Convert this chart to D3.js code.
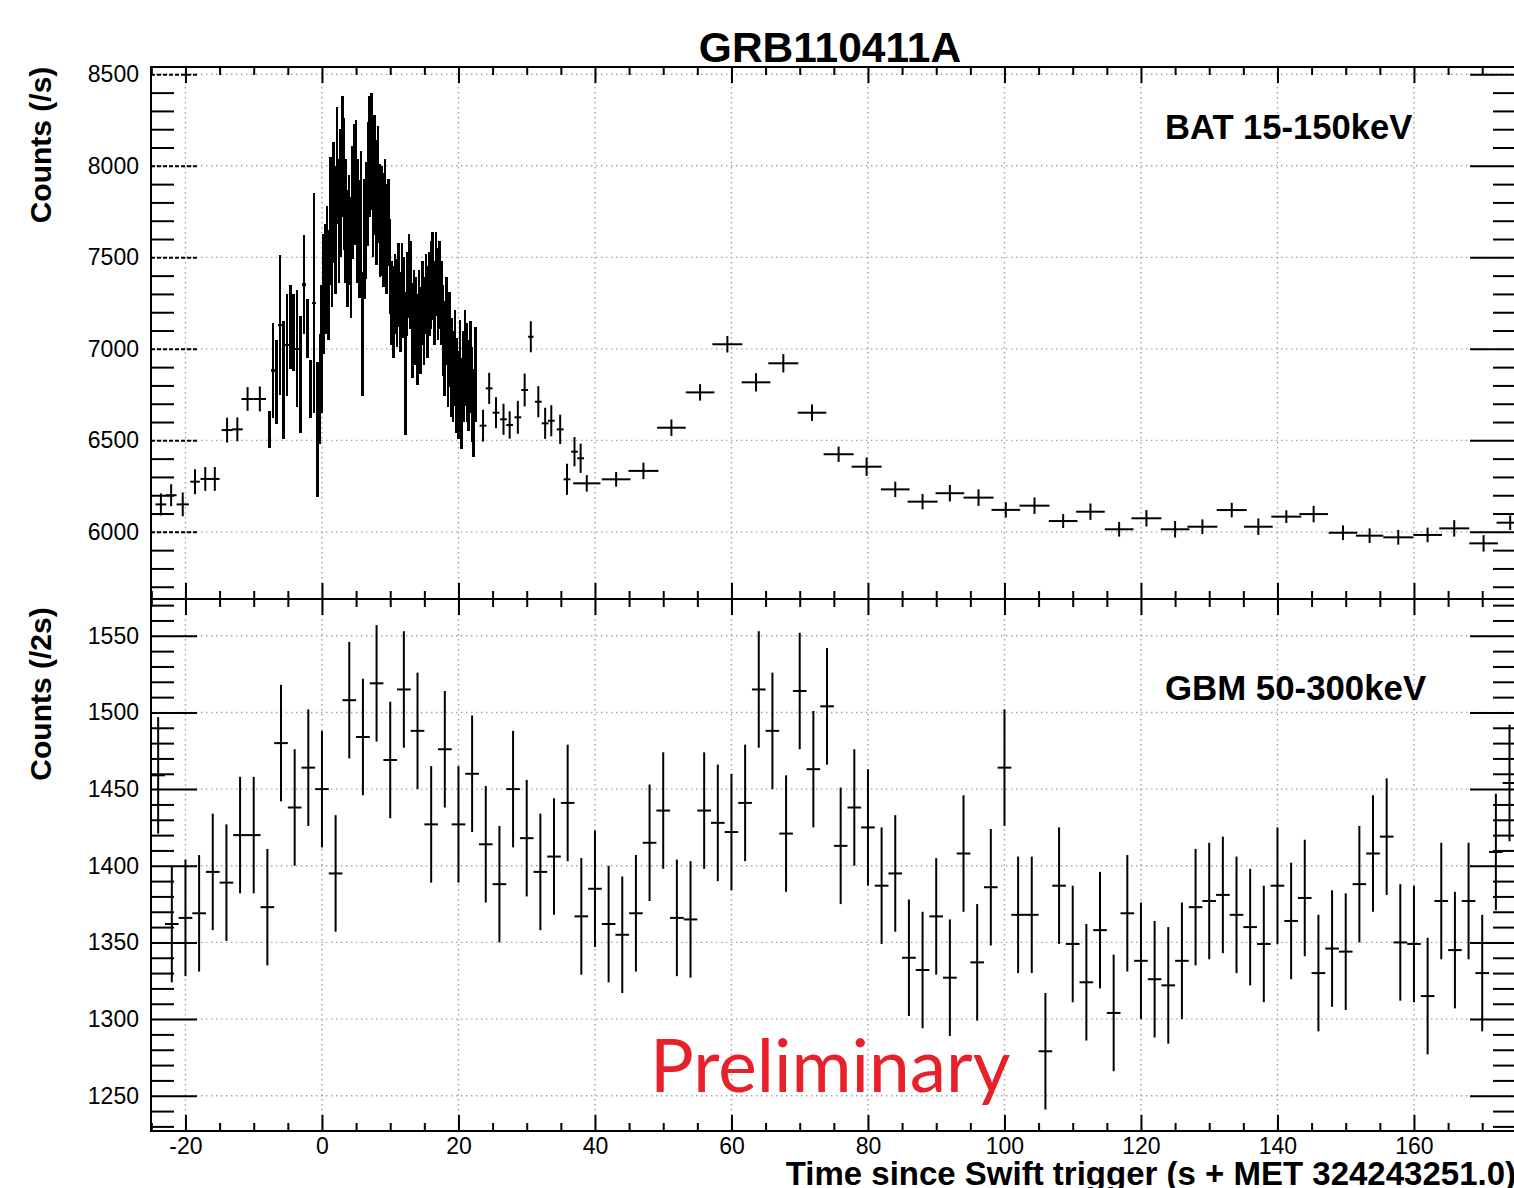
<!DOCTYPE html>
<html>
<head>
<meta charset="utf-8">
<script src="https://cdn.jsdelivr.net/npm/d3@7"></script>
<style>
body { margin: 0; background: #fff; }
svg text { font-family: "Liberation Sans", Arial, Helvetica, sans-serif; }
</style>
</head>
<body>
<div id="chart"></div>
<script>
// ---- BAT 15-150 keV, sparse bins (time, rate, half bin width, error) ----
var batT = [-23.6, -22.1, -20.4, -18.6, -17.1, -15.7, -13.9, -12.4, -10.9, -9.1,
            23.6, 24.5, 25.5, 26.6, 27.5, 28.7, 29.7, 30.6, 31.7, 32.7, 33.6, 34.9, 35.9, 37.0, 37.9,
            38.8, 43.1, 47.1, 51.2, 55.4, 59.4, 63.6, 67.6, 71.8, 75.7, 79.8, 84.0, 88.0, 92.0, 96.2,
            100.2, 104.4, 108.6, 112.6, 116.8, 120.8, 125.0, 129.0, 133.3, 137.2, 141.3, 145.3,
            149.6, 153.5, 157.7, 162.0, 165.9, 170.2, 174.1];
var batV = [6150, 6200, 6150, 6274, 6289, 6289, 6556, 6560, 6726, 6726,
            6580, 6784, 6651, 6615, 6584, 6626, 6775, 7066, 6711, 6593, 6607, 6560, 6287, 6438, 6402,
            6265, 6287, 6333, 6569, 6762, 7025, 6817, 6921, 6651, 6424, 6356, 6232, 6165, 6211, 6187,
            6120, 6143, 6059, 6110, 6014, 6074, 6014, 6028, 6119, 6028, 6083, 6097,
            5995, 5979, 5970, 5983, 6019, 5937, 6050];
var batXErr = [0.8, 0.8, 0.9, 0.7, 0.7, 0.7, 0.8, 0.8, 0.9, 0.9,
               0.5, 0.5, 0.5, 0.5, 0.5, 0.5, 0.5, 0.4, 0.5, 0.5, 0.5, 0.5, 0.5, 0.5, 0.5,
               2.0, 2.1, 2.2, 2.1, 2.1, 2.2, 2.1, 2.2, 2.1, 2.2, 2.2, 2.1, 2.2, 2.1, 2.2,
               2.1, 2.2, 2.1, 2.1, 2.1, 2.2, 2.1, 2.2, 2.2, 2.1, 2.2, 2.1,
               2.1, 2.0, 2.2, 2.1, 2.2, 2.1, 2.0];
var batYErr = [60, 60, 65, 68, 65, 65, 68, 65, 65, 68,
               87, 85, 85, 85, 75, 90, 90, 85, 85, 85, 85, 80, 85, 80, 80,
               45, 40, 45, 45, 45, 45, 50, 50, 45, 42, 50, 42, 42, 45, 45,
               42, 45, 38, 45, 40, 45, 45, 40, 40, 45, 35, 45,
               40, 40, 40, 40, 45, 45, 40];

// ---- BAT rise, 0.5 s bins starting at -7.9 s ----
var batRiseStart = -7.9, batRiseBin = 0.5;
var batRiseV = [6560, 6880, 6820, 7130, 6830, 7020, 7120, 7090, 7000, 6860, 7350, 7110, 6780, 7250, 6560];
var batRiseE = [100, 260, 230, 380, 320, 280, 230, 210, 320, 320, 270, 160, 160, 600, 370];

// ---- BAT main burst, 0.25 s bins starting at -0.4 s ----
var batBurstStart = -0.4, batBurstBin = 0.25;
var batBurstV = [6780, 7000, 7300, 7380, 7450, 7350, 7700, 7550, 7800, 7650, 8000, 7700,
                 7850, 8050, 7900, 7700, 7550, 7650, 7500, 7800, 7900, 7950, 7700, 7600,
                 7750, 7080, 7600, 7700, 7900, 8050, 8080, 7850, 7950, 7800, 7900, 7700,
                 7700, 7650, 7750, 7600, 7690, 7450, 7250, 7200, 7300, 7250, 7350, 7200,
                 7350, 7280, 6920, 7300, 7400, 7350, 7100, 7200, 7150, 7050, 7200, 7100,
                 7250, 7150, 7300, 7200, 7300, 7350, 7400, 7250, 7410, 7300, 7350, 7250,
                 7100, 7000, 7150, 6950, 7050, 6900, 6850, 6950, 6800, 6750, 6900, 6700,
                 6850, 6950, 6870, 6800, 6900, 6750, 6650, 6860];
var batBurstE = [300, 350, 330, 300, 330, 300, 350, 320, 330, 350, 320, 340,
                 350, 330, 360, 340, 320, 300, 330, 310, 330, 300, 340, 320,
                 330, 340, 330, 320, 340, 330, 320, 350, 330, 340, 320, 310,
                 300, 310, 290, 300, 240, 260, 230, 250, 220, 240, 230, 220,
                 230, 220, 390, 230, 230, 240, 260, 230, 240, 250, 230, 240,
                 230, 240, 220, 250, 230, 240, 240, 230, 230, 250, 240, 230,
                 250, 260, 240, 270, 260, 270, 250, 260, 260, 240, 260, 250,
                 250, 260, 270, 250, 250, 260, 240, 260];

// ---- GBM 50-300 keV, 2 s bins starting at -25 s ----
var gbmStart = -25, gbmBin = 2, gbmErr = 38;
var gbmV = [1459, 1362, 1366, 1369, 1396, 1389, 1420, 1420, 1373, 1480,
            1438, 1464, 1450, 1395, 1508, 1484, 1519, 1469, 1515, 1488,
            1427, 1476, 1427, 1460, 1414, 1388, 1450, 1418, 1396, 1406,
            1441, 1367, 1385, 1362, 1355, 1369, 1415, 1436, 1366, 1365,
            1436, 1428, 1422, 1441, 1515, 1488, 1421, 1514, 1463, 1504,
            1413, 1438, 1425, 1387, 1395, 1340, 1332, 1367, 1327, 1408,
            1337, 1386, 1464, 1368, 1368, 1279, 1387, 1349, 1324, 1358,
            1304, 1369, 1338, 1326, 1322, 1338, 1373, 1377, 1381, 1368,
            1360, 1349, 1387, 1364, 1379, 1330, 1346, 1344, 1388, 1408,
            1419, 1350, 1349, 1315, 1377, 1345, 1377, 1330, 1409, 1454];

// ---- axis ticks ----
var xMajor = [-20, 0, 20, 40, 60, 80, 100, 120, 140, 160];
var xMinor = [-25, -15, -10, -5, 5, 10, 15, 25, 30, 35, 45, 50, 55, 65, 70, 75, 85, 90, 95,
              105, 110, 115, 125, 130, 135, 145, 150, 155, 165, 170];
var batMajor = [6000, 6500, 7000, 7500, 8000, 8500];
var batMinor = [5700, 5800, 5900, 6100, 6200, 6300, 6400, 6600, 6700, 6800, 6900,
                7100, 7200, 7300, 7400, 7600, 7700, 7800, 7900, 8100, 8200, 8300, 8400];
var gbmMajor = [1250, 1300, 1350, 1400, 1450, 1500, 1550];
var gbmMinor = [1230, 1240, 1260, 1270, 1280, 1290, 1310, 1320, 1330, 1340, 1360, 1370, 1380, 1390,
                1410, 1420, 1430, 1440, 1460, 1470, 1480, 1490, 1510, 1520, 1530, 1540, 1560, 1570];

// build point lists
var batPts = batT.map(function(t, i) {
  return {t: t, v: batV[i], xe: batXErr[i], ye: batYErr[i]};
});
var burstPts = [];
batRiseV.forEach(function(v, i) {
  burstPts.push({t: batRiseStart + (i + 0.5) * batRiseBin, v: v, xe: batRiseBin / 2, ye: batRiseE[i]});
});
batBurstV.forEach(function(v, i) {
  burstPts.push({t: batBurstStart + (i + 0.5) * batBurstBin, v: v, xe: batBurstBin / 2, ye: batBurstE[i]});
});
var gbmPts = gbmV.map(function(v, i) {
  return {t: gbmStart + (i + 0.5) * gbmBin, v: v, xe: gbmBin / 2, ye: gbmErr};
});

var width = 1514, height = 1188;
var left = 151, right = 1516;
var topY = 67, midY = 599, botY = 1131;

var svg = d3.select("#chart").append("svg")
  .attr("width", width)
  .attr("height", height);

var x = d3.scaleLinear().domain([-25.05, 174.95]).range([left, right]);
var yTop = d3.scaleLinear().domain([5633, 8540]).range([midY, topY]);
var yBot = d3.scaleLinear().domain([1227, 1574]).range([botY, midY]);

var defs = svg.append("defs");

function errorBars(name, y, pts, lw, crisp) {
  var g = svg.append("g").attr("clip-path", "url(#clip-" + name + ")")
    .attr("stroke", "#000").attr("stroke-width", lw)
    .attr("shape-rendering", crisp ? "crispEdges" : null);
  g.selectAll(".ey").data(pts).enter().append("line")
    .attr("x1", function(d) { return x(d.t); }).attr("x2", function(d) { return x(d.t); })
    .attr("y1", function(d) { return y(d.v - d.ye); }).attr("y2", function(d) { return y(d.v + d.ye); });
  g.selectAll(".ex").data(pts).enter().append("line")
    .attr("x1", function(d) { return x(d.t - d.xe); }).attr("x2", function(d) { return x(d.t + d.xe); })
    .attr("y1", function(d) { return y(d.v); }).attr("y2", function(d) { return y(d.v); });
}

function drawPanel(name, y, yMajor, yMinor, y0, y1, dashedMajor) {
  defs.append("clipPath").attr("id", "clip-" + name)
    .append("rect").attr("x", left).attr("y", y0).attr("width", right - left).attr("height", y1 - y0);

  // dotted grid
  var grid = svg.append("g").attr("class", "grid")
    .attr("stroke", "#a0a0a0").attr("stroke-width", 1.4).attr("stroke-dasharray", "1.4,3.6");
  grid.selectAll(".gx").data(xMajor).enter().append("line")
    .attr("x1", function(d) { return x(d); }).attr("x2", function(d) { return x(d); })
    .attr("y1", y0).attr("y2", y1);
  grid.selectAll(".gy").data(yMajor).enter().append("line")
    .attr("x1", left).attr("x2", right)
    .attr("y1", function(d) { return y(d); }).attr("y2", function(d) { return y(d); });

  // y ticks, left and right
  var yl = svg.append("g").attr("transform", "translate(" + left + ",0)")
    .call(d3.axisLeft(y).tickValues(yMajor).tickSize(-46).tickPadding(12).tickFormat(function(d) { return String(d); }));
  yl.selectAll(".tick line").attr("stroke-dasharray", dashedMajor ? "4,2" : null);
  svg.append("g").attr("transform", "translate(" + left + ",0)")
    .call(d3.axisLeft(y).tickValues(yMinor).tickSize(-23).tickFormat(""));
  svg.append("g").attr("transform", "translate(" + right + ",0)")
    .call(d3.axisRight(y).tickValues(yMajor).tickSize(-46).tickFormat(""));
  svg.append("g").attr("transform", "translate(" + right + ",0)")
    .call(d3.axisRight(y).tickValues(yMinor).tickSize(-23).tickFormat(""));

  // x ticks, top and bottom of this panel
  svg.append("g").attr("transform", "translate(0," + y0 + ")")
    .call(d3.axisTop(x).tickValues(xMajor).tickSize(-16).tickFormat(""));
  svg.append("g").attr("transform", "translate(0," + y0 + ")")
    .call(d3.axisTop(x).tickValues(xMinor).tickSize(-8).tickFormat(""));
  svg.append("g").attr("transform", "translate(0," + y1 + ")")
    .call(d3.axisBottom(x).tickValues(xMajor).tickSize(-16).tickPadding(7)
      .tickFormat(name === "gbm" ? function(d) { return String(d); } : ""));
  svg.append("g").attr("transform", "translate(0," + y1 + ")")
    .call(d3.axisBottom(x).tickValues(xMinor).tickSize(-8).tickFormat(""));

  // frame
  svg.append("rect").attr("x", left).attr("y", y0).attr("width", right - left).attr("height", y1 - y0)
    .attr("fill", "none").attr("stroke", "#000").attr("stroke-width", 2);
}

drawPanel("bat", yTop, batMajor, batMinor, topY, midY, true);
drawPanel("gbm", yBot, gbmMajor, gbmMinor, midY, botY, false);

errorBars("bat", yTop, batPts, 2, false);
errorBars("bat", yTop, burstPts, 2.6, true);
errorBars("gbm", yBot, gbmPts, 2, false);

svg.selectAll(".domain").remove();
svg.selectAll(".tick line").attr("stroke-width", 2);
svg.selectAll(".tick text").attr("font-size", 23).attr("fill", "#000")
  .style("font-family", "'Liberation Sans', Arial, sans-serif");

// titles and labels
svg.append("text").attr("x", 830).attr("y", 62).attr("text-anchor", "middle")
  .attr("font-size", 42.5).attr("font-weight", "bold").text("GRB110411A");

svg.append("text").attr("transform", "translate(51,145) rotate(-90)").attr("text-anchor", "middle")
  .attr("font-size", 30).attr("font-weight", "bold").text("Counts (/s)");
svg.append("text").attr("transform", "translate(51,694) rotate(-90)").attr("text-anchor", "middle")
  .attr("font-size", 30).attr("font-weight", "bold").text("Counts (/2s)");

svg.append("text").attr("x", 1165).attr("y", 139)
  .attr("font-size", 34.6).attr("font-weight", "bold").text("BAT 15-150keV");
svg.append("text").attr("x", 1165).attr("y", 700)
  .attr("font-size", 34.8).attr("font-weight", "bold").text("GBM 50-300keV");

svg.append("text").attr("x", 1516).attr("y", 1185).attr("text-anchor", "end")
  .attr("font-size", 33).attr("font-weight", "bold")
  .text("Time since Swift trigger (s + MET 324243251.0)");

svg.append("text").attr("x", 650).attr("y", 1092)
  .style("font-family", "Lato, 'Open Sans', sans-serif")
  .attr("font-size", 73).attr("fill", "#e8202a").text("Preliminary");
</script>
</body>
</html>
